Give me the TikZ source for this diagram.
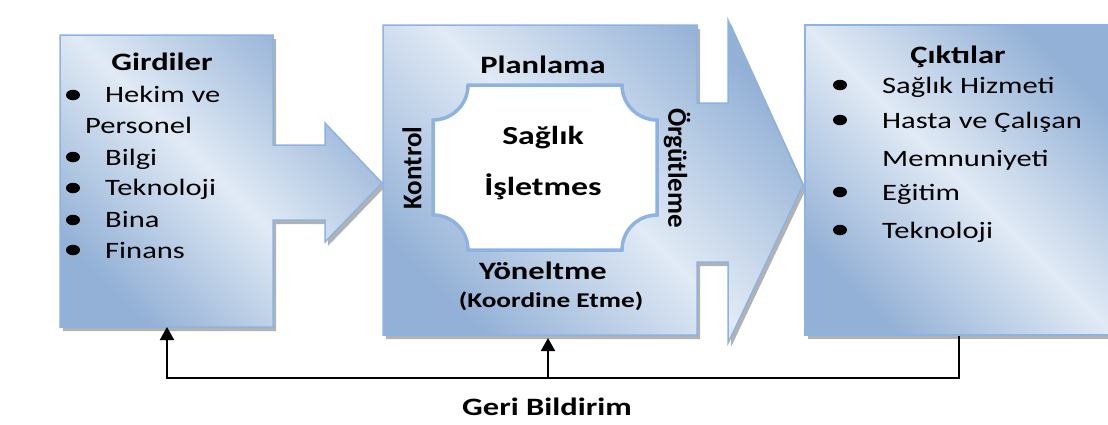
\documentclass[tikz,border=0pt]{standalone}
\usepackage{fontspec}
\setmainfont{Carlito}[FakeStretch=1.3]
\newfontfamily\rotfont{Carlito}
\usetikzlibrary{arrows.meta,shadows,shapes.geometric}
\definecolor{bxlight}{HTML}{E1EAF5}
\definecolor{bxdark}{HTML}{93B1D6}
\definecolor{bxline}{HTML}{8DB3E2}
\tikzset{
  panel/.style={draw=bxline, line width=1.5pt, top color=bxdark, bottom color=bxdark,
    middle color=bxlight, shading angle=-45,
    drop shadow={shadow xshift=3pt, shadow yshift=-4pt, opacity=0.55, fill=black!55}},
  plaque/.style={draw=bxline, line width=3.5pt, fill=white},
  bul/.style={ellipse, fill=black, inner sep=0pt, minimum width=14pt, minimum height=10.5pt},
  item/.style={inner sep=0pt, anchor=base west, font=\fontsize{23.5}{28}\selectfont},
  title/.style={inner sep=0pt, anchor=base, font=\fontsize{25}{30}\selectfont\bfseries},
  side/.style={inner sep=0pt, font=\fontsize{27}{32}\selectfont\rotfont\bfseries},
  fb/.style={line width=2pt, draw=black},
  fbarrow/.style={fb, -{Triangle[length=13pt,width=14pt]}}
}
\begin{document}
\begin{tikzpicture}[x=1pt,y=-1pt]
\useasboundingbox[fill=white] (0,0) rectangle (1108,424);

% input panel with arrow
\path[panel] (60,35) -- (273,35) -- (273,145) -- (325,145) -- (325,123) -- (382,183)
  -- (325,242) -- (325,220) -- (273,220) -- (273,327) -- (60,327) -- cycle;
% process panel with arrow
\path[panel] (383,25) -- (697,25) -- (697,103) -- (728,103) -- (728,20) -- (803,185)
  -- (728,343) -- (728,262) -- (697,262) -- (697,335) -- (383,335) -- cycle;
% output panel
\path[panel] (805,25) -- (1114,25) -- (1114,335) -- (805,335) -- cycle;

% plaque
\path[plaque] (468,85) -- (622,85) arc[start angle=180, end angle=90, radius=35]
  -- (657,215) arc[start angle=270, end angle=180, radius=35]
  -- (468,250) arc[start angle=0, end angle=-90, radius=35]
  -- (433,120) arc[start angle=90, end angle=0, radius=35] -- cycle;

% Girdiler
\node[title] (gir) at (162,70) {Girdiler};
\node[bul] (b1) at (73,95) {};
\node[item] (g1) at (105,102) {Hekim ve};
\node[item] (g1b) at (85,133) {Personel};
\node[bul] (b2) at (73,157) {};
\node[item] (g2) at (105,165) {Bilgi};
\node[bul] (b3) at (73,188) {};
\node[item] (g3) at (105,195) {Teknoloji};
\node[bul] (b4) at (73,220) {};
\node[item] (g4) at (105,227) {Bina};
\node[bul] (b5) at (73,250) {};
\node[item] (g5) at (105,258) {Finans};

% process texts
\node[title] (plan) at (543,73) {Planlama};
\node[title, font=\fontsize{26}{30}\selectfont\bfseries] (sag) at (543,144) {Sağlık};
\node[title, font=\fontsize{26}{30}\selectfont\bfseries] (isl) at (543,195) {İşletmes};
\node[title] (yon) at (543,279) {Yöneltme};
\node[title, font=\fontsize{21}{26}\selectfont\bfseries] (koor) at (551,307) {(Koordine Etme)};
\node[side, rotate=90] (kon) at (412,168) {Kontrol};
\node[side, rotate=-90] (org) at (677,168) {Örgütleme};

% Ciktilar
\node[title] (cik) at (958,63) {Çıktılar};
\node[bul] (c1) at (840,85) {};
\node[item] (t1) at (882,93) {Sağlık Hizmeti};
\node[bul] (c2) at (840,120) {};
\node[item] (t2) at (882,128) {Hasta ve Çalışan};
\node[item] (t2b) at (882,166) {Memnuniyeti};
\node[bul] (c3) at (840,192) {};
\node[item] (t3) at (882,200) {Eğitim};
\node[bul] (c4) at (840,230) {};
\node[item] (t4) at (882,238) {Teknoloji};

% feedback
\coordinate (cikBot) at (959,336);
\coordinate (girBot) at (167,327);
\coordinate (yonBot) at (548,338);
\coordinate (fbR) at (959,378);
\coordinate (fbL) at (167,378);
\coordinate (fbM) at (548,378);
\draw[fbarrow] (cikBot) -- (fbR) -- (fbL) -- (girBot);
\draw[fbarrow] (fbM) -- (yonBot);
\node[title] (geri) at (547,415) {Geri Bildirim};
\end{tikzpicture}
\end{document}
